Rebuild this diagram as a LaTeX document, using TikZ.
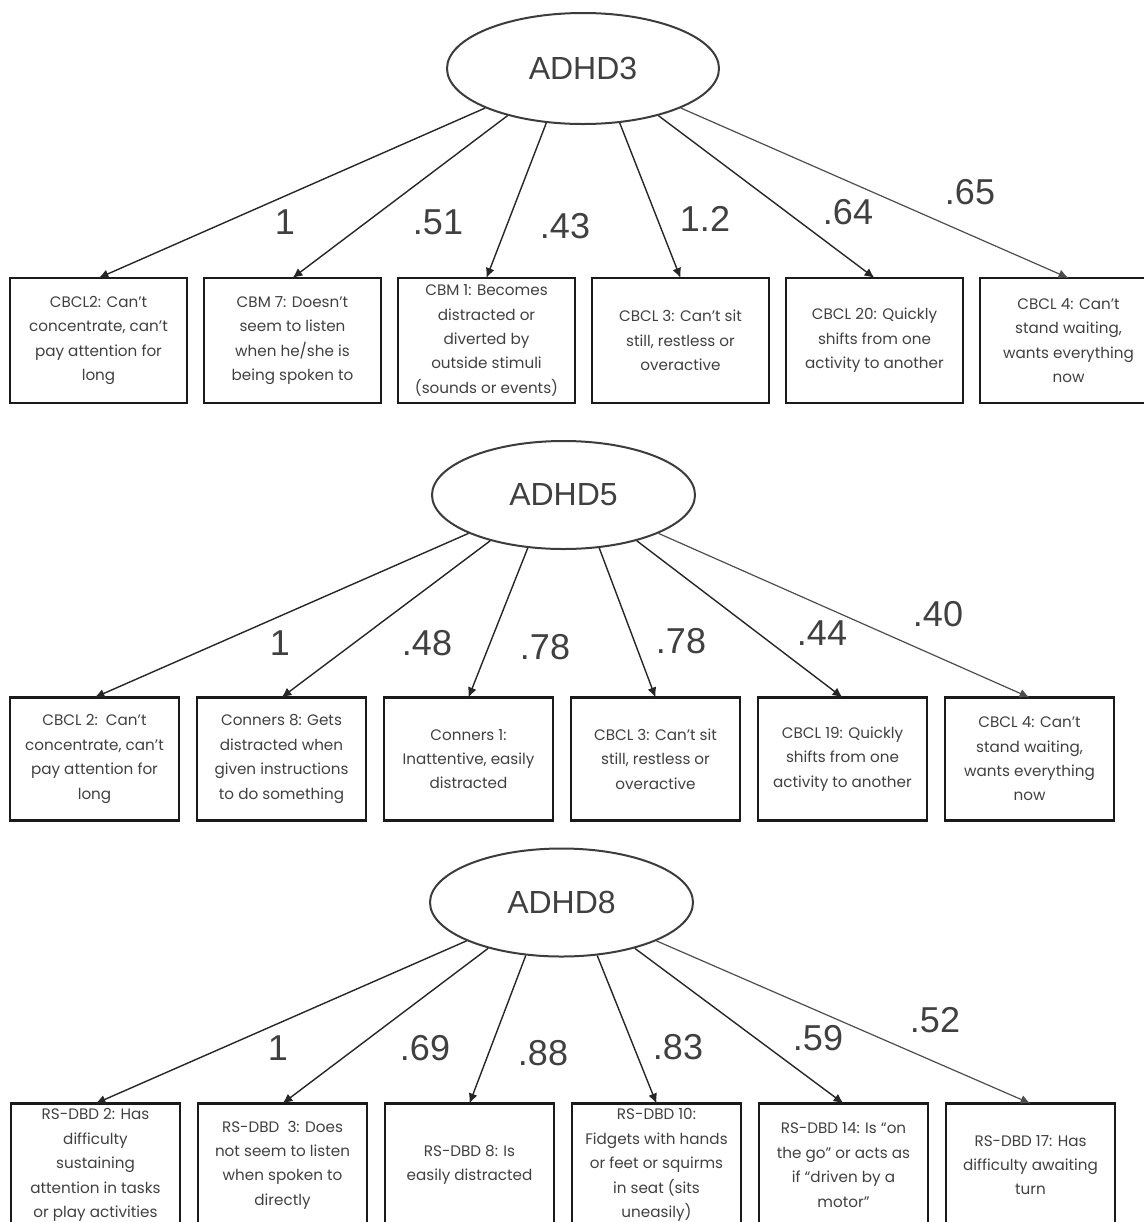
\documentclass[tikz,border=0pt]{standalone}
\usepackage{fontspec}
\setmainfont{Liberation Sans}
\newfontfamily\itemfont{Poppins}
\usepackage{xcolor}
\usetikzlibrary{positioning,arrows.meta,shapes.geometric}
\definecolor{itemText}{HTML}{404040}
\definecolor{itemEdge}{HTML}{1A1A1A}
\definecolor{latEdge}{HTML}{3C3C3C}
\definecolor{pathLine}{HTML}{262626}
\definecolor{farLine}{HTML}{4D4D4D}

\begin{document}
\begin{tikzpicture}[
    x=0.5pt, y=-0.5pt,
    >={Latex[length=5pt,width=4.5pt]},
    latent/.style={ellipse, draw=latEdge, line width=1pt, inner sep=0pt,
      text=itemText, font=\fontsize{16}{18}\selectfont},
    item/.style={rectangle, draw=itemEdge, line width=1.2pt, outer sep=0pt,
      align=center, inner sep=1pt, text=itemText,
      font=\itemfont\fontsize{7.6}{12.2}\selectfont},
    itemA/.style={item, minimum width=88.5pt, minimum height=62.5pt},
    itemB/.style={item, minimum width=84.5pt, minimum height=61.5pt},
    load/.style={->, draw=pathLine, line width=0.7pt},
    loadfar/.style={->, draw=farLine, line width=0.6pt},
    wt/.style={text=itemText, font=\fontsize{18}{20}\selectfont, inner sep=0pt},
  ]
\useasboundingbox (0,0) rectangle (1144,1222);

% ===== ADHD3 =====
\node[latent, minimum width=136pt, minimum height=55.5pt] (aLat) at (583,68.5) {ADHD3};
\node[itemA] (aCbcl2) at (98.5,340.5) {CBCL2: Can’t\\concentrate, can’t\\pay attention for\\long};
\node[itemA, right=8.5pt of aCbcl2] (aCbm7) {CBM 7: Doesn’t\\seem to listen\\when he/she is\\being spoken to};
\node[itemA, right=8.5pt of aCbm7] (aCbm1) {CBM 1: Becomes\\distracted or\\diverted by\\outside stimuli\\(sounds or events)};
\node[itemA, right=8.5pt of aCbm1] (aCbcl3) {CBCL 3: Can’t sit\\still, restless or\\overactive};
\node[itemA, right=8.5pt of aCbcl3] (aCbcl20) {CBCL 20: Quickly\\shifts from one\\activity to another};
\node[itemA, right=8.5pt of aCbcl20] (aCbcl4) {CBCL 4: Can’t\\stand waiting,\\wants everything\\now};

% Arrows
\draw[load] (aLat.202) -- (aCbcl2.north);
\draw[load] (aLat.212) -- (aCbm7.north);
\draw[load] (aLat.236) -- (aCbm1.north);
\draw[load] (aLat.304) -- (aCbcl3.north);
\draw[load] (aLat.328) -- (aCbcl20.north);
\draw[loadfar] (aLat.338) -- (aCbcl4.north);

% Loadings
\node[wt] (aW1) at (285,222) {1};
\node[wt] (aW2) at (438,222) {.51};
\node[wt] (aW3) at (565,226) {.43};
\node[wt] (aW4) at (705,219) {1.2};
\node[wt] (aW5) at (848,212) {.64};
\node[wt] (aW6) at (970,192) {.65};

% ===== ADHD5 =====
\node[latent, minimum width=131.5pt, minimum height=54pt] (bLat) at (563.5,495) {ADHD5};
\node[itemB] (bCbcl2) at (94.5,759) {CBCL 2:\ \ Can’t\\concentrate, can’t\\pay attention for\\long};
\node[itemB, right=9pt of bCbcl2] (bConn8) {Conners 8: Gets\\distracted when\\given instructions\\to do something};
\node[itemB, right=9pt of bConn8] (bConn1) {Conners 1:\\Inattentive, easily\\distracted};
\node[itemB, right=9pt of bConn1] (bCbcl3) {CBCL 3: Can’t sit\\still, restless or\\overactive};
\node[itemB, right=9pt of bCbcl3] (bCbcl19) {CBCL 19: Quickly\\shifts from one\\activity to another};
\node[itemB, right=9pt of bCbcl19] (bCbcl4) {CBCL 4: Can’t\\stand waiting,\\wants everything\\now};

% Arrows
\draw[load] (bLat.202) -- (bCbcl2.north);
\draw[load] (bLat.212) -- (bConn8.north);
\draw[load] (bLat.236) -- (bConn1.north);
\draw[load] (bLat.304) -- (bCbcl3.north);
\draw[load] (bLat.328) -- (bCbcl19.north);
\draw[loadfar] (bLat.338) -- (bCbcl4.north);

% Loadings
\node[wt] (bW1) at (280,643) {1};
\node[wt] (bW2) at (427,643) {.48};
\node[wt] (bW3) at (545,647) {.78};
\node[wt] (bW4) at (681,641) {.78};
\node[wt] (bW5) at (822,633) {.44};
\node[wt] (bW6) at (938,614) {.40};

% ===== ADHD8 =====
\node[latent, minimum width=131.5pt, minimum height=54pt] (cLat) at (561.5,902.5) {ADHD8};
\node[itemB] (cDbd2) at (95.5,1165) {RS-DBD 2: Has\\difficulty\\sustaining\\attention in tasks\\or play activities};
\node[itemB, right=9pt of cDbd2] (cDbd3) {RS-DBD\ \ 3: Does\\not seem to listen\\when spoken to\\directly};
\node[itemB, right=9pt of cDbd3] (cDbd8) {RS-DBD 8: Is\\easily distracted};
\node[itemB, right=9pt of cDbd8] (cDbd10) {RS-DBD 10:\\Fidgets with hands\\or feet or squirms\\in seat (sits\\uneasily)};
\node[itemB, right=9pt of cDbd10] (cDbd14) {RS-DBD 14: Is “on\\the go” or acts as\\if “driven by a\\motor”};
\node[itemB, right=9pt of cDbd14] (cDbd17) {RS-DBD 17: Has\\difficulty awaiting\\turn};

% Arrows
\draw[load] (cLat.202) -- (cDbd2.north);
\draw[load] (cLat.212) -- (cDbd3.north);
\draw[load] (cLat.236) -- (cDbd8.north);
\draw[load] (cLat.304) -- (cDbd10.north);
\draw[load] (cLat.328) -- (cDbd14.north);
\draw[loadfar] (cLat.338) -- (cDbd17.north);

% Loadings
\node[wt] (cW1) at (278,1048) {1};
\node[wt] (cW2) at (425,1048) {.69};
\node[wt] (cW3) at (543,1053) {.88};
\node[wt] (cW4) at (678,1047) {.83};
\node[wt] (cW5) at (818,1038) {.59};
\node[wt] (cW6) at (935,1020) {.52};

\end{tikzpicture}
\end{document}
